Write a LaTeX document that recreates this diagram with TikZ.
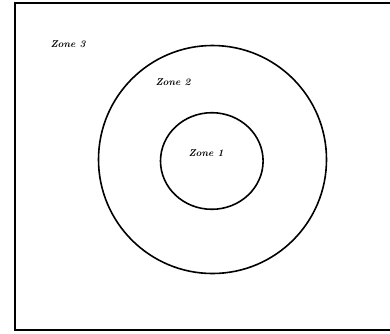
\documentclass[tikz,border=0pt]{standalone}
\usepackage{fontspec}
\begin{document}
\begin{tikzpicture}[x=1pt,y=-1pt,
  zonelabel/.style={anchor=base,inner sep=0pt,font=\fontsize{10}{12}\selectfont\bfseries\itshape},
  ring/.style={line width=1.6pt,draw=black}]
\useasboundingbox (0,0) rectangle (390,333);
% frame (right side runs off the picture)
\draw[line width=2.2pt,line join=miter] (395,3.2) -- (15.2,3.2) -- (15.2,330) -- (395,330);
% zones
\draw[ring] (212.5,159.5) circle (114);
\draw[ring] (211.8,161) ellipse (51.3 and 48.3);
\node[zonelabel] (z3) at (68,47.7) {Zone \oldstylenums{3}};
\node[zonelabel] (z2) at (173,85.7) {Zone \oldstylenums{2}};
\node[zonelabel] (z1) at (206,156.3) {Zone \oldstylenums{1}};
\end{tikzpicture}
\end{document}
